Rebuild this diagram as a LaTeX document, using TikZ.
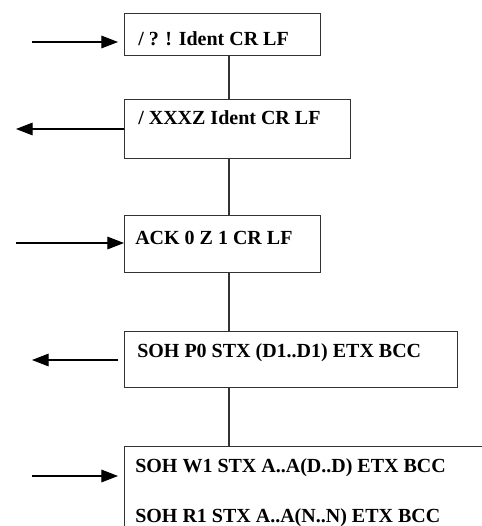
\documentclass[tikz,border=0pt]{standalone}
\usepackage{fontspec}
\setmainfont{Liberation Serif}
\usetikzlibrary{arrows.meta}

\tikzset{
  box/.style={draw=black!80,line width=1pt,anchor=north west,inner sep=0pt},
  msg/.style={anchor=base west,inner sep=0pt,font=\fontsize{15}{18}\selectfont\bfseries},
  arr/.style={draw=black,line width=0.8pt,-{Triangle[length=12.5pt,width=9.5pt]}},
  link/.style={draw=black!80,line width=1pt}
}

\begin{document}
\begin{tikzpicture}[x=0.75pt,y=-0.75pt]
\useasboundingbox (0,0) rectangle (482,526);
\clip (0,0) rectangle (482,526);
\coordinate (spine) at (229,0);
\node[box,minimum width=147pt,minimum height=31.5pt] (b1) at (124,13) {};
\node[box,minimum width=169.5pt,minimum height=44.25pt] (b2) at (124,99) {};
\node[box,minimum width=147pt,minimum height=42.75pt] (b3) at (124,215) {};
\node[box,minimum width=249.75pt,minimum height=42pt] (b4) at (124,331) {};
\node[box,minimum width=277.5pt,minimum height=75pt] (b5) at (124,446) {};
\node[msg] (t1) at (138,45) {/ ? ! Ident CR LF};
\node[msg] (t2) at (138,124) {/ XXXZ Ident CR LF};
\node[msg] (t3) at (135,244) {ACK 0 Z 1 CR LF};
\node[msg] (t4) at (137,357) {SOH P0 STX (D1..D1) ETX BCC};
\node[msg] (t5a) at (135,472) {SOH W1 STX A..A(D..D) ETX BCC};
\node[msg] (t5b) at (135,522) {SOH R1 STX A..A(N..N) ETX BCC};
\draw[link] (b1.south -| spine) -- (b2.north -| spine);
\draw[link] (b2.south -| spine) -- (b3.north -| spine);
\draw[link] (b3.south -| spine) -- (b4.north -| spine);
\draw[link] (b4.south -| spine) -- (b5.north -| spine);
\coordinate (in1) at (32,42);
\coordinate (out2) at (16,129);
\coordinate (in3) at (16,243);
\coordinate (out4) at (32,360);
\coordinate (in5) at (32,476);
\draw[arr,shorten >=4.5pt] (in1) -- (b1.west |- in1);
\draw[arr] (b2.west |- out2) -- (out2);
\draw[arr] (in3) -- (b3.west |- in3);
\draw[arr,shorten <=4.5pt] (b4.west |- out4) -- (out4);
\draw[arr,shorten >=4.5pt] (in5) -- (b5.west |- in5);
\end{tikzpicture}
\end{document}
